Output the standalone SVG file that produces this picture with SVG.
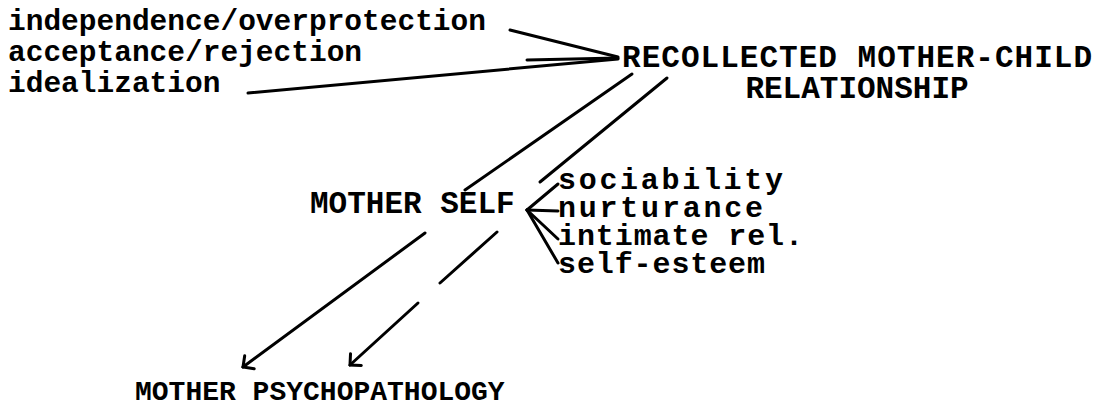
<svg xmlns="http://www.w3.org/2000/svg" width="1101" height="407" viewBox="0 0 1101 407">
  <style>
    .lbl { font-family: "Liberation Mono", "Courier New", monospace; font-weight: bold; fill: #000; }
    .lo { font-size: 29.5px; }
    .fa { font-size: 30px; }
    .up { font-size: 31px; }
    .ms { font-size: 31px; }
    .pp { font-size: 28px; }
    .ln { stroke: #000; stroke-width: 3; fill: none; stroke-linecap: round; }
  </style>
  <defs>
    <marker id="open" viewBox="-10 -10 12 20" markerWidth="12" markerHeight="20" refX="0" refY="0" orient="auto" markerUnits="userSpaceOnUse">
      <path d="M-8,-8 L0,0 L-8,8" stroke="#000" stroke-width="3" fill="none" stroke-linecap="round" stroke-linejoin="miter"/>
    </marker>
  </defs>
  <rect width="1101" height="407" fill="#fff"/>

  <g id="connectors">
    <!-- facets of the recollected relationship -->
    <path class="ln" d="M510,30 L618,57"/>
    <path class="ln" d="M527,60 L618,58"/>
    <path class="ln" d="M248,93 L618,59"/>
    <!-- recollected relationship to mother self -->
    <path class="ln" d="M632,74 L465,190"/>
    <!-- recollected relationship to psychopathology, broken where it passes the self node -->
    <path class="ln" d="M667,78 L540,182"/>
    <path class="ln" d="M497,232 L440,283"/>
    <path class="ln" d="M418,303 L350,365" marker-end="url(#open)"/>
    <!-- mother self to psychopathology -->
    <path class="ln" d="M425,233 L243,367" marker-end="url(#open)"/>
    <!-- facets of mother self -->
    <path class="ln" d="M527,210 L558,184"/>
    <path class="ln" d="M527,210 L558,211"/>
    <path class="ln" d="M527,210 L558,239"/>
    <path class="ln" d="M527,210 L558,263"/>
  </g>

  <g id="mc-facets">
    <text class="lbl lo" x="8" y="30">independence/overprotection</text>
    <text class="lbl lo" x="8" y="61">acceptance/rejection</text>
    <text class="lbl lo" x="8" y="92">idealization</text>
  </g>

  <g id="recollected">
    <text class="lbl up" x="622" y="67" textLength="470">RECOLLECTED MOTHER-CHILD</text>
    <text class="lbl up" x="857" y="98" text-anchor="middle">RELATIONSHIP</text>
  </g>

  <g id="mother-self">
    <text class="lbl ms" x="310" y="213">MOTHER SELF</text>
  </g>

  <g id="self-facets">
    <text class="lbl fa" x="558" y="189" textLength="225">sociability</text>
    <text class="lbl fa" x="558" y="217" textLength="205">nurturance</text>
    <text class="lbl fa" x="558" y="245" textLength="245">intimate rel.</text>
    <text class="lbl fa" x="558" y="273" textLength="207">self-esteem</text>
  </g>

  <g id="psychopathology">
    <text class="lbl pp" x="135" y="400">MOTHER PSYCHOPATHOLOGY</text>
  </g>
</svg>
